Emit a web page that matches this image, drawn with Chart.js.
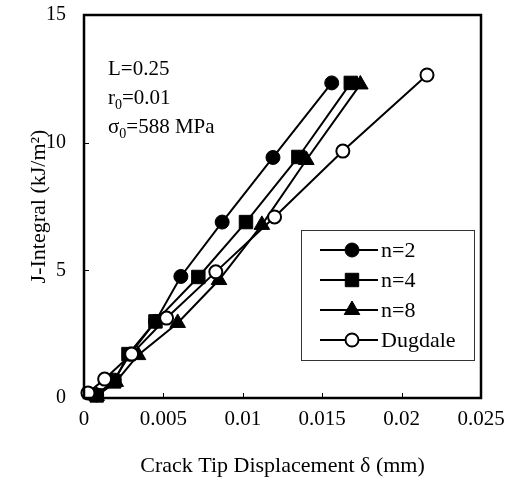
<!DOCTYPE html>
<html><head><meta charset="utf-8">
<script src="https://cdn.jsdelivr.net/npm/chart.js@4"></script>
<style>html,body{margin:0;padding:0;background:#fff}#wrap{position:relative;width:506px;height:483px}</style>
</head><body><div id="wrap"><canvas id="c"></canvas></div>
<script>
// ---- data ----
const xTickLabels = ['0', '0.005', '0.01', '0.015', '0.02', '0.025'];
const yTickLabels = ['0', '5', '10', '15'];
const seriesNames = ['n=2', 'n=4', 'n=8', 'Dugdale'];
const n2X = [0.0008, 0.0019, 0.0029, 0.0045, 0.0061, 0.0087, 0.0119, 0.0156];
const n2Y = [0.12, 0.70, 1.72, 3.00, 4.76, 6.89, 9.42, 12.34];
const n4X = [0.0008, 0.0019, 0.0028, 0.0045, 0.0072, 0.0102, 0.0135, 0.0168];
const n4Y = [0.10, 0.65, 1.72, 3.00, 4.74, 6.89, 9.44, 12.34];
const n8X = [0.0008, 0.0020, 0.0034, 0.0059, 0.0085, 0.0112, 0.0140, 0.0174];
const n8Y = [0.08, 0.63, 1.68, 2.94, 4.62, 6.78, 9.32, 12.28];
const dgX = [0.00025, 0.0013, 0.0030, 0.0052, 0.0083, 0.0120, 0.0163, 0.0216];
const dgY = [0.20, 0.74, 1.72, 3.13, 4.94, 7.09, 9.67, 12.65];
const annotationLines = [['L=0.25', '', ''], ['r', '0', '=0.01'], ['σ', '0', '=588 MPa']];
const xTitle = 'Crack Tip Displacement δ (mm)';
const yTitle = 'J-Integral (kJ/m²)';

const SERIF = "'Liberation Serif', 'Times New Roman', serif";
function pts(xs, ys) { return xs.map((x, i) => ({x: x, y: ys[i]})); }

const styles = [
  {pointStyle: 'circle', radius: 7, fill: '#000', bw: 1},
  {pointStyle: 'rect', radius: 9.5, fill: '#000', bw: 1},
  {pointStyle: 'triangle', radius: 9, fill: '#000', bw: 1},
  {pointStyle: 'circle', radius: 6.5, fill: '#fff', bw: 2}
];
const seriesData = [pts(n2X, n2Y), pts(n4X, n4Y), pts(n8X, n8Y), pts(dgX, dgY)];
const orders = [1, 2, 3, 0];

const datasets = seriesNames.map((name, i) => ({
  label: name,
  data: seriesData[i],
  showLine: true,
  borderColor: '#000',
  borderWidth: 2,
  backgroundColor: styles[i].fill,
  pointStyle: styles[i].pointStyle,
  pointRadius: styles[i].radius,
  pointBorderWidth: styles[i].bw,
  pointBorderColor: '#000',
  pointBackgroundColor: styles[i].fill,
  order: orders[i],
  clip: false,
  tension: 0
}));

function noPad(s) { s.paddingTop = 0; s.paddingBottom = 0; s.paddingLeft = 0; s.paddingRight = 0; }

const framePlugin = {
  id: 'frame',
  afterDatasetsDraw(chart) {
    const {ctx, chartArea: a, scales: {x, y}} = chart;
    ctx.save();
    ctx.strokeStyle = '#000';
    // inner tick marks
    ctx.lineWidth = 1;
    ctx.beginPath();
    x.ticks.forEach(t => {
      const px = Math.round(x.getPixelForValue(t.value)) + 0.5;
      ctx.moveTo(px, a.bottom); ctx.lineTo(px, a.bottom - 5);
    });
    y.ticks.forEach(t => {
      const py = Math.round(y.getPixelForValue(t.value)) + 0.5;
      ctx.moveTo(a.left, py); ctx.lineTo(a.left + 5, py);
    });
    ctx.stroke();
    // frame
    ctx.lineWidth = 2.5;
    ctx.strokeRect(a.left, a.top, a.right - a.left, a.bottom - a.top);

    // annotation text
    ctx.fillStyle = '#000';
    ctx.textBaseline = 'alphabetic';
    const ax = a.left + 24, ay0 = a.top + 60, lh = 29;
    annotationLines.forEach((ln, i) => {
      const by = ay0 + i * lh;
      let cx = ax;
      ctx.font = '21px ' + SERIF;
      ctx.fillText(ln[0], cx, by); cx += ctx.measureText(ln[0]).width;
      if (ln[1]) {
        ctx.font = '14px ' + SERIF;
        ctx.fillText(ln[1], cx, by + 5); cx += ctx.measureText(ln[1]).width;
      }
      ctx.font = '21px ' + SERIF;
      ctx.fillText(ln[2], cx, by);
    });

    // legend
    const lx = a.left + 217, ly = a.top + 215, lw = 173, lhgt = 130;
    ctx.fillStyle = '#fff';
    ctx.fillRect(lx, ly, lw, lhgt);
    ctx.lineWidth = 1;
    ctx.strokeStyle = '#333';
    ctx.strokeRect(lx + 0.5, ly + 0.5, lw, lhgt);
    chart.data.datasets.forEach((ds, i) => {
      const cy = ly + 20 + i * 30;
      ctx.strokeStyle = '#000';
      ctx.lineWidth = 2;
      ctx.beginPath();
      ctx.moveTo(lx + 19, cy); ctx.lineTo(lx + 77, cy);
      ctx.stroke();
      ctx.fillStyle = ds.pointBackgroundColor;
      ctx.lineWidth = ds.pointBorderWidth;
      Chart.helpers.drawPoint(ctx, {pointStyle: ds.pointStyle, radius: ds.pointRadius, rotation: 0, borderWidth: ds.pointBorderWidth}, lx + 51, cy);
      ctx.fillStyle = '#000';
      ctx.font = '22px ' + SERIF;
      ctx.textBaseline = 'middle';
      ctx.textAlign = 'left';
      ctx.fillText(ds.label, lx + 80, cy + 1);
    });
    ctx.restore();
  }
};

new Chart(document.getElementById('c'), {
  type: 'scatter',
  data: {datasets: datasets},
  plugins: [framePlugin],
  options: {
    responsive: true,
    maintainAspectRatio: false,
    animation: false,
    layout: {padding: {left: 0, right: 25, top: 15, bottom: 0}},
    plugins: {legend: {display: false}, tooltip: {enabled: false}},
    scales: {
      x: {
        type: 'linear', min: 0, max: 0.025,
        afterFit(s) { s.height = 85; noPad(s); },
        grid: {display: false, drawTicks: false},
        border: {display: false},
        ticks: {
          stepSize: 0.005, padding: 9, color: '#000',
          font: {family: SERIF, size: 21},
          callback: (v) => xTickLabels[Math.round(v / 0.005)]
        },
        title: {display: true, text: xTitle, color: '#000', font: {family: SERIF, size: 22}, padding: {top: 0, bottom: 4}}
      },
      y: {
        type: 'linear', min: 0, max: 15,
        afterFit(s) { s.width = 84; noPad(s); },
        grid: {display: false, drawTicks: false},
        border: {display: false},
        ticks: {
          stepSize: 5, padding: 18, color: '#000',
          font: {family: SERIF, size: 20},
          callback: (v) => yTickLabels[Math.round(v / 5)]
        },
        title: {display: true, text: yTitle, color: '#000', font: {family: SERIF, size: 22}, padding: {top: 26, bottom: 0}}
      }
    }
  }
});
</script></body></html>
